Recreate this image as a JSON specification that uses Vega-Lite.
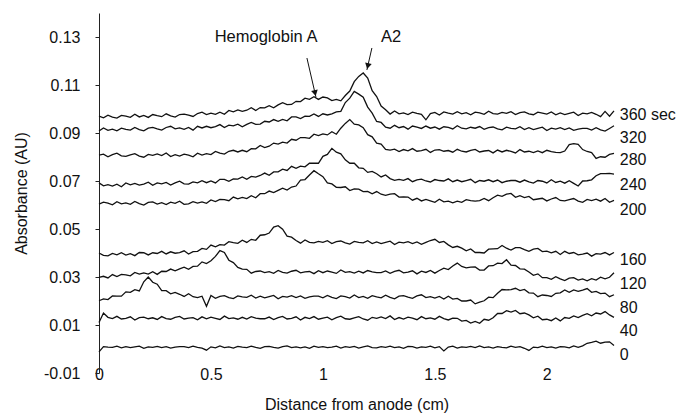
{
"$schema": "https://vega.github.io/schema/vega-lite/v6.json",
"width": 515, "height": 360,
"autosize": {"type": "none"},
"padding": {"left": 99, "top": 13, "right": 71, "bottom": 41},
"background": "white",
"config": {"view": {"stroke": null}, "font": "Liberation Sans"},
"layer": [
{"data": {"values": [
{"x":0,"a":0.0970,"b":0.0908,"c":0.0808,"d":0.0692,"e":0.0604,"f":0.0400,"g":0.0298,"h":0.0201,"i":0.0110,"j":-0.0012},
{"x":0.02,"a":0.0963,"b":0.0921,"c":0.0812,"d":0.0680,"e":0.0612,"f":0.0390,"g":0.0303,"h":0.0209,"i":0.0150,"j":0.0010},
{"x":0.04,"a":0.0974,"b":0.0911,"c":0.0801,"d":0.0685,"e":0.0608,"f":0.0388,"g":0.0296,"h":0.0206,"i":0.0132,"j":0.0008},
{"x":0.06,"a":0.0966,"b":0.0916,"c":0.0810,"d":0.0679,"e":0.0601,"f":0.0398,"g":0.0310,"h":0.0221,"i":0.0127,"j":0.0007},
{"x":0.08,"a":0.0962,"b":0.0909,"c":0.0816,"d":0.0687,"e":0.0614,"f":0.0392,"g":0.0302,"h":0.0220,"i":0.0136,"j":0.0012},
{"x":0.1,"a":0.0973,"b":0.0920,"c":0.0805,"d":0.0676,"e":0.0605,"f":0.0401,"g":0.0311,"h":0.0220,"i":0.0125,"j":0.0005},
{"x":0.12,"a":0.0970,"b":0.0915,"c":0.0803,"d":0.0692,"e":0.0609,"f":0.0391,"g":0.0309,"h":0.0238,"i":0.0128,"j":0.0010},
{"x":0.14,"a":0.0965,"b":0.0912,"c":0.0809,"d":0.0684,"e":0.0603,"f":0.0397,"g":0.0305,"h":0.0236,"i":0.0134,"j":0.0006},
{"x":0.16,"a":0.0978,"b":0.0923,"c":0.0814,"d":0.0690,"e":0.0615,"f":0.0389,"g":0.0319,"h":0.0247,"i":0.0121,"j":0.0009},
{"x":0.18,"a":0.0967,"b":0.0914,"c":0.0804,"d":0.0683,"e":0.0606,"f":0.0402,"g":0.0312,"h":0.0242,"i":0.0131,"j":0.0012},
{"x":0.2,"a":0.0973,"b":0.0909,"c":0.0799,"d":0.0687,"e":0.0600,"f":0.0401,"g":0.0317,"h":0.0280,"i":0.0133,"j":0.0003},
{"x":0.22,"a":0.0965,"b":0.0920,"c":0.0811,"d":0.0695,"e":0.0611,"f":0.0392,"g":0.0312,"h":0.0300,"i":0.0126,"j":0.0009},
{"x":0.24,"a":0.0977,"b":0.0923,"c":0.0807,"d":0.0682,"e":0.0613,"f":0.0401,"g":0.0322,"h":0.0278,"i":0.0130,"j":0.0007},
{"x":0.26,"a":0.0972,"b":0.0917,"c":0.0813,"d":0.0692,"e":0.0604,"f":0.0398,"g":0.0311,"h":0.0270,"i":0.0123,"j":0.0011},
{"x":0.28,"a":0.0968,"b":0.0912,"c":0.0806,"d":0.0688,"e":0.0610,"f":0.0407,"g":0.0324,"h":0.0243,"i":0.0135,"j":0.0006},
{"x":0.3,"a":0.0980,"b":0.0923,"c":0.0817,"d":0.0694,"e":0.0602,"f":0.0396,"g":0.0323,"h":0.0243,"i":0.0127,"j":0.0010},
{"x":0.32,"a":0.0971,"b":0.0928,"c":0.0802,"d":0.0683,"e":0.0612,"f":0.0405,"g":0.0333,"h":0.0230,"i":0.0124,"j":0.0004},
{"x":0.34,"a":0.0966,"b":0.0917,"c":0.0810,"d":0.0692,"e":0.0607,"f":0.0399,"g":0.0326,"h":0.0236,"i":0.0132,"j":0.0008},
{"x":0.36,"a":0.0977,"b":0.0921,"c":0.0804,"d":0.0699,"e":0.0616,"f":0.0402,"g":0.0334,"h":0.0228,"i":0.0136,"j":0.0010},
{"x":0.38,"a":0.0979,"b":0.0915,"c":0.0812,"d":0.0688,"e":0.0603,"f":0.0409,"g":0.0341,"h":0.0219,"i":0.0125,"j":0.0010},
{"x":0.4,"a":0.0974,"b":0.0923,"c":0.0808,"d":0.0687,"e":0.0605,"f":0.0396,"g":0.0332,"h":0.0230,"i":0.0129,"j":0.0006},
{"x":0.42,"a":0.0969,"b":0.0912,"c":0.0801,"d":0.0696,"e":0.0614,"f":0.0406,"g":0.0344,"h":0.0218,"i":0.0131,"j":0.0012},
{"x":0.44,"a":0.0981,"b":0.0928,"c":0.0816,"d":0.0692,"e":0.0608,"f":0.0407,"g":0.0345,"h":0.0214,"i":0.0122,"j":0.0007},
{"x":0.46,"a":0.0987,"b":0.0921,"c":0.0808,"d":0.0701,"e":0.0613,"f":0.0419,"g":0.0363,"h":0.0220,"i":0.0134,"j":0.0004},
{"x":0.48,"a":0.0977,"b":0.0928,"c":0.0814,"d":0.0693,"e":0.0607,"f":0.0415,"g":0.0356,"h":0.0178,"i":0.0126,"j":-0.0005},
{"x":0.5,"a":0.0983,"b":0.0922,"c":0.0810,"d":0.0700,"e":0.0621,"f":0.0433,"g":0.0368,"h":0.0223,"i":0.0133,"j":0.0009},
{"x":0.52,"a":0.0978,"b":0.0927,"c":0.0823,"d":0.0692,"e":0.0614,"f":0.0426,"g":0.0386,"h":0.0211,"i":0.0128,"j":0.0005},
{"x":0.54,"a":0.0987,"b":0.0935,"c":0.0816,"d":0.0707,"e":0.0623,"f":0.0435,"g":0.0410,"h":0.0219,"i":0.0123,"j":0.0013},
{"x":0.56,"a":0.0978,"b":0.0923,"c":0.0812,"d":0.0707,"e":0.0622,"f":0.0433,"g":0.0402,"h":0.0222,"i":0.0137,"j":0.0006},
{"x":0.58,"a":0.0994,"b":0.0933,"c":0.0824,"d":0.0699,"e":0.0618,"f":0.0447,"g":0.0370,"h":0.0214,"i":0.0127,"j":0.0009},
{"x":0.6,"a":0.0988,"b":0.0930,"c":0.0828,"d":0.0709,"e":0.0633,"f":0.0443,"g":0.0360,"h":0.0210,"i":0.0130,"j":0.0004},
{"x":0.62,"a":0.0996,"b":0.0937,"c":0.0821,"d":0.0708,"e":0.0626,"f":0.0440,"g":0.0340,"h":0.0221,"i":0.0124,"j":0.0011},
{"x":0.64,"a":0.0990,"b":0.0926,"c":0.0828,"d":0.0717,"e":0.0632,"f":0.0453,"g":0.0333,"h":0.0217,"i":0.0132,"j":0.0008},
{"x":0.66,"a":0.0995,"b":0.0936,"c":0.0822,"d":0.0707,"e":0.0627,"f":0.0444,"g":0.0332,"h":0.0215,"i":0.0125,"j":0.0006},
{"x":0.68,"a":0.1005,"b":0.0944,"c":0.0835,"d":0.0719,"e":0.0639,"f":0.0457,"g":0.0316,"h":0.0224,"i":0.0135,"j":0.0012},
{"x":0.7,"a":0.0994,"b":0.0936,"c":0.0834,"d":0.0716,"e":0.0630,"f":0.0453,"g":0.0323,"h":0.0212,"i":0.0129,"j":0.0007},
{"x":0.72,"a":0.1006,"b":0.0937,"c":0.0848,"d":0.0723,"e":0.0647,"f":0.0474,"g":0.0325,"h":0.0220,"i":0.0126,"j":0.0003},
{"x":0.74,"a":0.1005,"b":0.0949,"c":0.0839,"d":0.0733,"e":0.0647,"f":0.0476,"g":0.0318,"h":0.0213,"i":0.0126,"j":0.0010},
{"x":0.76,"a":0.1014,"b":0.0946,"c":0.0845,"d":0.0724,"e":0.0658,"f":0.0483,"g":0.0322,"h":0.0218,"i":0.0133,"j":0.0011},
{"x":0.78,"a":0.1005,"b":0.0956,"c":0.0858,"d":0.0738,"e":0.0652,"f":0.0508,"g":0.0315,"h":0.0223,"i":0.0123,"j":0.0007},
{"x":0.8,"a":0.1017,"b":0.0949,"c":0.0854,"d":0.0738,"e":0.0661,"f":0.0514,"g":0.0327,"h":0.0209,"i":0.0131,"j":0.0004},
{"x":0.82,"a":0.1026,"b":0.0957,"c":0.0862,"d":0.0749,"e":0.0670,"f":0.0499,"g":0.0319,"h":0.0219,"i":0.0136,"j":0.0010},
{"x":0.84,"a":0.1018,"b":0.0951,"c":0.0858,"d":0.0744,"e":0.0662,"f":0.0470,"g":0.0316,"h":0.0216,"i":0.0125,"j":0.0013},
{"x":0.86,"a":0.1019,"b":0.0967,"c":0.0874,"d":0.0761,"e":0.0675,"f":0.0466,"g":0.0324,"h":0.0222,"i":0.0128,"j":0.0006},
{"x":0.88,"a":0.1032,"b":0.0967,"c":0.0870,"d":0.0753,"e":0.0679,"f":0.0452,"g":0.0328,"h":0.0214,"i":0.0134,"j":0.0009},
{"x":0.9,"a":0.1031,"b":0.0960,"c":0.0881,"d":0.0762,"e":0.0704,"f":0.0441,"g":0.0317,"h":0.0221,"i":0.0121,"j":0.0005},
{"x":0.92,"a":0.1045,"b":0.0970,"c":0.0881,"d":0.0759,"e":0.0706,"f":0.0454,"g":0.0321,"h":0.0211,"i":0.0132,"j":0.0009},
{"x":0.94,"a":0.1040,"b":0.0969,"c":0.0878,"d":0.0774,"e":0.0725,"f":0.0444,"g":0.0323,"h":0.0217,"i":0.0127,"j":0.0003},
{"x":0.96,"a":0.1051,"b":0.0979,"c":0.0895,"d":0.0774,"e":0.0743,"f":0.0442,"g":0.0314,"h":0.0220,"i":0.0135,"j":0.0012},
{"x":0.98,"a":0.1040,"b":0.0969,"c":0.0889,"d":0.0774,"e":0.0730,"f":0.0448,"g":0.0326,"h":0.0220,"i":0.0124,"j":0.0007},
{"x":1,"a":0.1050,"b":0.0980,"c":0.0896,"d":0.0803,"e":0.0718,"f":0.0444,"g":0.0318,"h":0.0213,"i":0.0129,"j":0.0010},
{"x":1.02,"a":0.1046,"b":0.0975,"c":0.0892,"d":0.0811,"e":0.0692,"f":0.0451,"g":0.0325,"h":0.0223,"i":0.0133,"j":0.0006},
{"x":1.04,"a":0.1035,"b":0.0980,"c":0.0905,"d":0.0836,"e":0.0688,"f":0.0439,"g":0.0320,"h":0.0215,"i":0.0122,"j":0.0008},
{"x":1.06,"a":0.1040,"b":0.0988,"c":0.0895,"d":0.0820,"e":0.0674,"f":0.0447,"g":0.0315,"h":0.0210,"i":0.0131,"j":0.0012},
{"x":1.08,"a":0.1034,"b":0.0990,"c":0.0920,"d":0.0813,"e":0.0673,"f":0.0450,"g":0.0329,"h":0.0221,"i":0.0137,"j":0.0004},
{"x":1.1,"a":0.1056,"b":0.1027,"c":0.0940,"d":0.0788,"e":0.0676,"f":0.0442,"g":0.0319,"h":0.0218,"i":0.0126,"j":0.0010},
{"x":1.12,"a":0.1075,"b":0.1045,"c":0.0956,"d":0.0774,"e":0.0660,"f":0.0437,"g":0.0322,"h":0.0212,"i":0.0124,"j":0.0007},
{"x":1.14,"a":0.1114,"b":0.1073,"c":0.0937,"d":0.0774,"e":0.0667,"f":0.0448,"g":0.0316,"h":0.0225,"i":0.0130,"j":0.0011},
{"x":1.16,"a":0.1136,"b":0.1062,"c":0.0934,"d":0.0755,"e":0.0666,"f":0.0444,"g":0.0324,"h":0.0214,"i":0.0135,"j":0.0004},
{"x":1.18,"a":0.1150,"b":0.1049,"c":0.0922,"d":0.0753,"e":0.0656,"f":0.0442,"g":0.0317,"h":0.0219,"i":0.0125,"j":0.0009},
{"x":1.2,"a":0.1129,"b":0.1008,"c":0.0893,"d":0.0736,"e":0.0657,"f":0.0451,"g":0.0327,"h":0.0211,"i":0.0120,"j":0.0013},
{"x":1.22,"a":0.1076,"b":0.0983,"c":0.0884,"d":0.0740,"e":0.0647,"f":0.0439,"g":0.0321,"h":0.0222,"i":0.0132,"j":0.0006},
{"x":1.24,"a":0.1052,"b":0.0948,"c":0.0858,"d":0.0730,"e":0.0656,"f":0.0446,"g":0.0318,"h":0.0217,"i":0.0128,"j":0.0005},
{"x":1.26,"a":0.1012,"b":0.0944,"c":0.0854,"d":0.0717,"e":0.0645,"f":0.0439,"g":0.0318,"h":0.0213,"i":0.0134,"j":0.0010},
{"x":1.28,"a":0.0997,"b":0.0924,"c":0.0832,"d":0.0725,"e":0.0640,"f":0.0444,"g":0.0325,"h":0.0224,"i":0.0127,"j":0.0007},
{"x":1.3,"a":0.0979,"b":0.0920,"c":0.0829,"d":0.0710,"e":0.0645,"f":0.0449,"g":0.0315,"h":0.0215,"i":0.0138,"j":0.0012},
{"x":1.32,"a":0.0992,"b":0.0932,"c":0.0833,"d":0.0703,"e":0.0647,"f":0.0435,"g":0.0323,"h":0.0209,"i":0.0123,"j":0.0006},
{"x":1.34,"a":0.0980,"b":0.0922,"c":0.0823,"d":0.0707,"e":0.0633,"f":0.0445,"g":0.0328,"h":0.0220,"i":0.0131,"j":0.0009},
{"x":1.36,"a":0.0984,"b":0.0927,"c":0.0831,"d":0.0703,"e":0.0634,"f":0.0442,"g":0.0317,"h":0.0222,"i":0.0125,"j":0.0003},
{"x":1.38,"a":0.0977,"b":0.0916,"c":0.0826,"d":0.0710,"e":0.0633,"f":0.0447,"g":0.0320,"h":0.0216,"i":0.0133,"j":0.0011},
{"x":1.4,"a":0.0987,"b":0.0929,"c":0.0835,"d":0.0697,"e":0.0620,"f":0.0439,"g":0.0326,"h":0.0211,"i":0.0129,"j":0.0010},
{"x":1.42,"a":0.0982,"b":0.0924,"c":0.0824,"d":0.0705,"e":0.0628,"f":0.0446,"g":0.0313,"h":0.0221,"i":0.0122,"j":0.0004},
{"x":1.44,"a":0.0978,"b":0.0919,"c":0.0827,"d":0.0708,"e":0.0617,"f":0.0436,"g":0.0324,"h":0.0226,"i":0.0135,"j":0.0009},
{"x":1.46,"a":0.0955,"b":0.0929,"c":0.0832,"d":0.0700,"e":0.0623,"f":0.0444,"g":0.0319,"h":0.0214,"i":0.0126,"j":0.0007},
{"x":1.48,"a":0.0981,"b":0.0920,"c":0.0819,"d":0.0696,"e":0.0617,"f":0.0452,"g":0.0327,"h":0.0218,"i":0.0130,"j":0.0012},
{"x":1.5,"a":0.0986,"b":0.0925,"c":0.0829,"d":0.0706,"e":0.0611,"f":0.0457,"g":0.0316,"h":0.0212,"i":0.0124,"j":0.0005},
{"x":1.52,"a":0.0975,"b":0.0916,"c":0.0831,"d":0.0702,"e":0.0624,"f":0.0444,"g":0.0327,"h":0.0219,"i":0.0136,"j":0.0010},
{"x":1.54,"a":0.0988,"b":0.0926,"c":0.0824,"d":0.0700,"e":0.0613,"f":0.0448,"g":0.0337,"h":0.0208,"i":0.0127,"j":-0.0008},
{"x":1.56,"a":0.0983,"b":0.0923,"c":0.0827,"d":0.0709,"e":0.0616,"f":0.0434,"g":0.0331,"h":0.0220,"i":0.0121,"j":0.0008},
{"x":1.58,"a":0.0979,"b":0.0917,"c":0.0820,"d":0.0697,"e":0.0609,"f":0.0423,"g":0.0346,"h":0.0208,"i":0.0129,"j":0.0012},
{"x":1.6,"a":0.0989,"b":0.0930,"c":0.0832,"d":0.0704,"e":0.0616,"f":0.0428,"g":0.0358,"h":0.0211,"i":0.0128,"j":0.0004},
{"x":1.62,"a":0.0980,"b":0.0920,"c":0.0824,"d":0.0697,"e":0.0611,"f":0.0420,"g":0.0344,"h":0.0200,"i":0.0116,"j":0.0009},
{"x":1.64,"a":0.0985,"b":0.0917,"c":0.0821,"d":0.0702,"e":0.0622,"f":0.0409,"g":0.0338,"h":0.0200,"i":0.0119,"j":0.0007},
{"x":1.66,"a":0.0976,"b":0.0924,"c":0.0828,"d":0.0707,"e":0.0618,"f":0.0417,"g":0.0341,"h":0.0204,"i":0.0108,"j":0.0011},
{"x":1.68,"a":0.0987,"b":0.0920,"c":0.0832,"d":0.0693,"e":0.0616,"f":0.0402,"g":0.0342,"h":0.0188,"i":0.0115,"j":0.0006},
{"x":1.7,"a":0.0984,"b":0.0927,"c":0.0821,"d":0.0702,"e":0.0618,"f":0.0402,"g":0.0329,"h":0.0195,"i":0.0107,"j":0.0013},
{"x":1.72,"a":0.0978,"b":0.0915,"c":0.0825,"d":0.0699,"e":0.0627,"f":0.0400,"g":0.0329,"h":0.0201,"i":0.0124,"j":0.0006},
{"x":1.74,"a":0.0991,"b":0.0922,"c":0.0827,"d":0.0705,"e":0.0618,"f":0.0416,"g":0.0346,"h":0.0216,"i":0.0120,"j":0.0009},
{"x":1.76,"a":0.0981,"b":0.0925,"c":0.0817,"d":0.0697,"e":0.0630,"f":0.0417,"g":0.0347,"h":0.0214,"i":0.0130,"j":0.0004},
{"x":1.78,"a":0.0979,"b":0.0917,"c":0.0829,"d":0.0704,"e":0.0641,"f":0.0418,"g":0.0358,"h":0.0232,"i":0.0148,"j":0.0010},
{"x":1.8,"a":0.0986,"b":0.0913,"c":0.0821,"d":0.0693,"e":0.0636,"f":0.0431,"g":0.0356,"h":0.0248,"i":0.0148,"j":0.0007},
{"x":1.82,"a":0.0982,"b":0.0924,"c":0.0828,"d":0.0699,"e":0.0645,"f":0.0420,"g":0.0372,"h":0.0246,"i":0.0160,"j":0.0005},
{"x":1.84,"a":0.0989,"b":0.0919,"c":0.0823,"d":0.0702,"e":0.0648,"f":0.0412,"g":0.0349,"h":0.0247,"i":0.0154,"j":0.0012},
{"x":1.86,"a":0.0977,"b":0.0917,"c":0.0817,"d":0.0702,"e":0.0632,"f":0.0422,"g":0.0348,"h":0.0253,"i":0.0161,"j":0.0007},
{"x":1.88,"a":0.0985,"b":0.0926,"c":0.0831,"d":0.0695,"e":0.0639,"f":0.0422,"g":0.0334,"h":0.0243,"i":0.0147,"j":0.0010},
{"x":1.9,"a":0.0988,"b":0.0914,"c":0.0821,"d":0.0704,"e":0.0631,"f":0.0414,"g":0.0333,"h":0.0248,"i":0.0150,"j":0.0003},
{"x":1.92,"a":0.0980,"b":0.0922,"c":0.0824,"d":0.0696,"e":0.0636,"f":0.0407,"g":0.0321,"h":0.0234,"i":0.0142,"j":-0.0006},
{"x":1.94,"a":0.0976,"b":0.0914,"c":0.0818,"d":0.0691,"e":0.0622,"f":0.0416,"g":0.0307,"h":0.0233,"i":0.0130,"j":0.0008},
{"x":1.96,"a":0.0987,"b":0.0919,"c":0.0825,"d":0.0702,"e":0.0625,"f":0.0419,"g":0.0313,"h":0.0218,"i":0.0137,"j":0.0006},
{"x":1.98,"a":0.0983,"b":0.0924,"c":0.0818,"d":0.0699,"e":0.0628,"f":0.0406,"g":0.0297,"h":0.0225,"i":0.0122,"j":0.0012},
{"x":2,"a":0.0979,"b":0.0910,"c":0.0828,"d":0.0692,"e":0.0617,"f":0.0408,"g":0.0297,"h":0.0223,"i":0.0124,"j":0.0006},
{"x":2.02,"a":0.0988,"b":0.0920,"c":0.0822,"d":0.0705,"e":0.0625,"f":0.0401,"g":0.0290,"h":0.0219,"i":0.0118,"j":0.0009},
{"x":2.04,"a":0.0976,"b":0.0916,"c":0.0819,"d":0.0694,"e":0.0631,"f":0.0407,"g":0.0301,"h":0.0232,"i":0.0129,"j":0.0004},
{"x":2.06,"a":0.0984,"b":0.0922,"c":0.0818,"d":0.0699,"e":0.0619,"f":0.0394,"g":0.0292,"h":0.0234,"i":0.0117,"j":0.0010},
{"x":2.08,"a":0.0977,"b":0.0914,"c":0.0825,"d":0.0691,"e":0.0617,"f":0.0407,"g":0.0285,"h":0.0246,"i":0.0131,"j":0.0009},
{"x":2.1,"a":0.0982,"b":0.0921,"c":0.0852,"d":0.0701,"e":0.0622,"f":0.0398,"g":0.0295,"h":0.0236,"i":0.0128,"j":0.0005},
{"x":2.12,"a":0.0987,"b":0.0911,"c":0.0856,"d":0.0690,"e":0.0627,"f":0.0402,"g":0.0297,"h":0.0246,"i":0.0138,"j":0.0013},
{"x":2.14,"a":0.0973,"b":0.0916,"c":0.0853,"d":0.0679,"e":0.0616,"f":0.0392,"g":0.0287,"h":0.0240,"i":0.0131,"j":0.0007},
{"x":2.16,"a":0.0983,"b":0.0919,"c":0.0831,"d":0.0700,"e":0.0611,"f":0.0395,"g":0.0292,"h":0.0245,"i":0.0140,"j":0.0013},
{"x":2.18,"a":0.0980,"b":0.0919,"c":0.0823,"d":0.0701,"e":0.0623,"f":0.0400,"g":0.0284,"h":0.0252,"i":0.0147,"j":0.0024},
{"x":2.2,"a":0.0986,"b":0.0912,"c":0.0818,"d":0.0705,"e":0.0618,"f":0.0387,"g":0.0293,"h":0.0236,"i":0.0138,"j":0.0028},
{"x":2.22,"a":0.0978,"b":0.0922,"c":0.0794,"d":0.0722,"e":0.0624,"f":0.0397,"g":0.0287,"h":0.0240,"i":0.0150,"j":0.0033},
{"x":2.24,"a":0.0968,"b":0.0913,"c":0.0801,"d":0.0731,"e":0.0616,"f":0.0395,"g":0.0299,"h":0.0231,"i":0.0146,"j":0.0024},
{"x":2.26,"a":0.0990,"b":0.0908,"c":0.0799,"d":0.0731,"e":0.0627,"f":0.0402,"g":0.0292,"h":0.0233,"i":0.0156,"j":0.0029},
{"x":2.28,"a":0.0970,"b":0.0919,"c":0.0811,"d":0.0732,"e":0.0611,"f":0.0392,"g":0.0299,"h":0.0218,"i":0.0142,"j":0.0030},
{"x":2.3,"a":0.0992,"b":0.0930,"c":0.0815,"d":0.0729,"e":0.0619,"f":0.0402,"g":0.0318,"h":0.0226,"i":0.0132,"j":0.0015}
]},
"transform": [{"fold": ["a","b","c","d","e","f","g","h","i","j"], "as": ["t","y"]}],
"mark": {"type": "line", "color": "#111", "strokeWidth": 1.3, "interpolate": "linear"},
"encoding": {
"x": {"field": "x", "type": "quantitative", "scale": {"domain": [0, 2.3], "nice": false},
 "axis": {"title": "Distance from anode (cm)", "values": [0, 0.5, 1, 1.5, 2], "format": "~g", "domain": false, "ticks": false, "tickSize": 0, "labelPadding": -7, "labelFlush": false, "labelOverlap": false, "grid": false, "labelFontSize": 16, "titleFontSize": 16, "titleFontWeight": "normal", "titlePadding": 14, "labelColor": "#111", "titleColor": "#111"}},
"y": {"field": "y", "type": "quantitative", "scale": {"domain": [-0.01, 0.14], "nice": false, "zero": false},
 "axis": {"title": "Absorbance (AU)", "values": [-0.01, 0.01, 0.03, 0.05, 0.07, 0.09, 0.11, 0.13], "labelExpr": "datum.value < 0 ? '-' + format(-datum.value, '.2f') : format(datum.value, '.2f')", "grid": false, "tickSize": 4, "tickColor": "#222", "domainColor": "#222", "labelPadding": 15, "labelFlush": false, "labelOverlap": false, "labelFontSize": 16, "titleFontSize": 16, "titleFontWeight": "normal", "titlePadding": 14, "labelColor": "#111", "titleColor": "#111"}},
"detail": {"field": "t"}
}},
{"data": {"values": [
{"x": 2.326, "y": 0.0975, "label": "360 sec"},
{"x": 2.326, "y": 0.0879, "label": "320"},
{"x": 2.326, "y": 0.0788, "label": "280"},
{"x": 2.326, "y": 0.0683, "label": "240"},
{"x": 2.326, "y": 0.0579, "label": "200"},
{"x": 2.326, "y": 0.0371, "label": "160"},
{"x": 2.326, "y": 0.0271, "label": "120"},
{"x": 2.326, "y": 0.0171, "label": "80"},
{"x": 2.326, "y": 0.0075, "label": "40"},
{"x": 2.326, "y": -0.0025, "label": "0"}
]},
"mark": {"type": "text", "align": "left", "baseline": "middle", "fontSize": 16, "color": "#111"},
"encoding": {"x": {"field": "x", "type": "quantitative"}, "y": {"field": "y", "type": "quantitative"}, "text": {"field": "label"}}},
{"data": {"values": [
{"x": 0.746, "y": 0.13, "label": "Hemoglobin A"},
{"x": 1.304, "y": 0.13, "label": "A2"}
]},
"mark": {"type": "text", "align": "center", "baseline": "middle", "fontSize": 16.5, "color": "#111"},
"encoding": {"x": {"field": "x", "type": "quantitative"}, "y": {"field": "y", "type": "quantitative"}, "text": {"field": "label"}}},
{"data": {"values": [
{"x": 0.9286, "y": 0.12125, "x2": 0.9688, "y2": 0.105},
{"x": 1.2188, "y": 0.12542, "x2": 1.1964, "y2": 0.11625}
]},
"mark": {"type": "rule", "color": "#111", "strokeWidth": 1},
"encoding": {"x": {"field": "x", "type": "quantitative"}, "y": {"field": "y", "type": "quantitative"}, "x2": {"field": "x2"}, "y2": {"field": "y2"}}},
{"data": {"values": [
{"x": 0.965, "y": 0.10663, "ang": -13},
{"x": 1.2004, "y": 0.11788, "ang": 13}
]},
"mark": {"type": "point", "shape": "triangle-down", "filled": true, "color": "#111", "size": 45, "opacity": 1},
"encoding": {"x": {"field": "x", "type": "quantitative"}, "y": {"field": "y", "type": "quantitative"}, "angle": {"field": "ang", "type": "quantitative", "scale": null}}}
]
}
